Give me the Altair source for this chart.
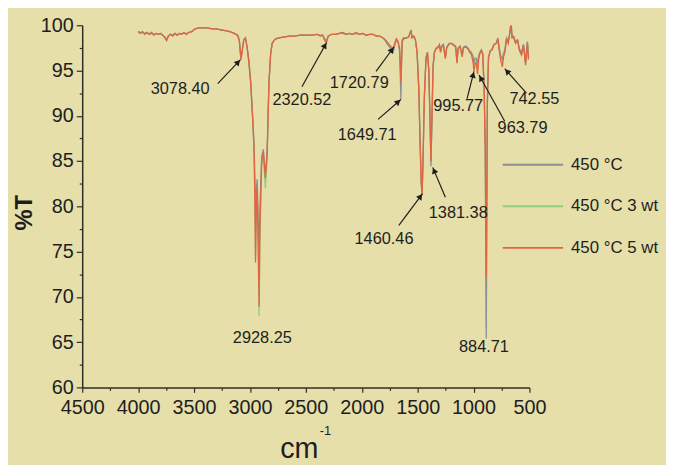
import math
import altair as alt
import pandas as pd

# ---------------- data ----------------
wavenumber = [
    4000, 3980, 3960, 3940, 3920, 3900, 3880, 3860, 3840, 3820,
    3800, 3780, 3760, 3745, 3730, 3710, 3690, 3670, 3650, 3630,
    3610, 3590, 3570, 3550, 3520, 3490, 3460, 3420, 3380, 3340,
    3300, 3260, 3220, 3180, 3140, 3110, 3095, 3085, 3080, 3070,
    3055, 3040, 3025, 3010, 2993, 2975, 2963, 2955, 2950, 2942,
    2935, 2925, 2918, 2910, 2895, 2880, 2862, 2850, 2845, 2830,
    2815, 2801, 2785, 2770, 2740, 2700, 2650, 2600, 2550, 2500,
    2450, 2400, 2370, 2350, 2330, 2315, 2300, 2270, 2230, 2200,
    2170, 2140, 2110, 2080, 2050, 2020, 1990, 1960, 1930, 1900,
    1870, 1840, 1810, 1790, 1770, 1750, 1735, 1720, 1710, 1700,
    1690, 1675, 1662, 1655, 1650, 1645, 1638, 1625, 1600, 1580,
    1565, 1558, 1550, 1535, 1520, 1505, 1490, 1478, 1468, 1460,
    1452, 1440, 1425, 1412, 1400, 1390, 1381, 1372, 1362, 1350,
    1335, 1320, 1305, 1295, 1285, 1270, 1252, 1240, 1220, 1200,
    1180, 1160, 1148, 1138, 1120, 1102, 1090, 1070, 1050, 1035,
    1020, 1005, 996, 985, 975, 964, 955, 945, 930, 918,
    905, 895, 889, 886, 882, 876, 866, 850, 835, 820,
    810, 795, 783, 770, 755, 742, 732, 720, 705, 690,
    680, 670, 662, 655, 642, 625, 606, 590, 571, 553,
    535, 518, 509,
]

t_450 = [
    99.3, 99.2, 99.2, 99.1, 99.2, 99.0, 99.1, 99.0, 99.1, 99.0,
    99.1, 98.9, 98.7, 98.4, 98.8, 99.0, 98.9, 99.1, 98.9, 99.1,
    99.0, 99.2, 99.0, 99.2, 99.3, 99.6, 99.7, 99.7, 99.7, 99.6,
    99.6, 99.5, 99.4, 99.3, 99.1, 98.9, 98.4, 97.0, 96.5, 97.2,
    98.4, 98.6, 97.6, 96.2, 93.8, 89.8, 86.8, 83.0, 78.2, 82.0,
    83.0, 78.0, 74.6, 80.0, 85.5, 86.3, 83.6, 85.3, 86.5, 93.6,
    96.8, 98.0, 98.3, 98.5, 98.6, 98.7, 98.8, 98.8, 98.9, 98.9,
    98.9, 99.0, 98.9, 98.9, 98.5, 98.3, 98.8, 99.0, 99.0, 99.1,
    99.1, 99.0, 99.1, 99.0, 99.1, 99.0, 99.1, 98.9, 99.0, 99.0,
    98.8, 98.8, 98.6, 98.3, 97.9, 97.6, 97.2, 97.0, 97.5, 98.0,
    98.4, 98.1, 97.2, 94.5, 91.8, 95.0, 98.2, 98.5, 98.6, 98.7,
    99.2, 99.3, 98.6, 98.8, 98.4, 97.0, 93.2, 87.3, 82.8, 81.5,
    85.2, 92.2, 96.4, 97.0, 95.0, 89.8, 84.4, 89.5, 95.4, 97.0,
    97.5, 97.6, 97.9, 97.2, 97.7, 97.9, 96.5, 97.6, 98.0, 98.0,
    97.9, 97.7, 96.0, 97.5, 97.7, 96.7, 97.6, 97.7, 97.5, 97.2,
    97.0, 96.6, 95.8, 96.4, 96.3, 95.8, 96.6, 97.0, 97.3, 96.9,
    93.0, 86.0, 71.0, 65.4, 78.0, 91.5, 96.4, 97.2, 97.3, 97.8,
    97.9, 98.1, 98.6, 97.5, 96.5, 96.3, 96.9, 97.3, 98.6, 98.2,
    98.8, 99.5, 99.6, 98.7, 98.8, 98.2, 98.4, 97.4, 97.0, 97.9,
    95.9, 98.2, 96.5,
]

t_450_3wt = [
    99.3, 99.1, 99.3, 99.0, 99.2, 99.0, 99.2, 98.9, 99.1, 99.0,
    99.1, 98.9, 98.6, 98.3, 98.8, 99.0, 98.8, 99.1, 98.9, 99.1,
    99.0, 99.2, 99.0, 99.2, 99.3, 99.6, 99.7, 99.7, 99.7, 99.6,
    99.6, 99.5, 99.4, 99.3, 99.1, 98.9, 98.3, 96.9, 96.3, 97.0,
    98.4, 98.6, 97.5, 96.0, 93.6, 89.5, 86.3, 80.5, 74.5, 80.5,
    82.0, 74.0, 67.9, 77.0, 84.5, 85.5, 82.0, 84.5, 86.0, 93.5,
    96.8, 98.0, 98.3, 98.5, 98.6, 98.7, 98.8, 98.8, 98.9, 98.9,
    98.9, 99.0, 98.8, 98.9, 98.4, 98.2, 98.8, 99.0, 99.0, 99.1,
    99.2, 99.0, 99.1, 99.0, 99.2, 99.0, 99.1, 98.9, 99.0, 99.0,
    98.8, 98.8, 98.6, 98.4, 98.0, 97.7, 97.4, 97.3, 97.7, 98.1,
    98.5, 98.2, 97.4, 95.2, 93.0, 95.6, 98.3, 98.6, 98.6, 98.7,
    99.3, 99.4, 98.6, 98.8, 98.4, 97.0, 93.0, 87.0, 82.5, 81.4,
    85.0, 92.0, 96.4, 97.0, 95.0, 90.0, 84.8, 90.0, 95.5, 97.0,
    97.4, 97.5, 97.8, 97.1, 97.6, 97.8, 96.4, 97.5, 97.9, 98.0,
    97.8, 97.6, 95.9, 97.4, 97.6, 96.6, 97.5, 97.6, 97.4, 97.1,
    96.9, 96.3, 95.4, 96.0, 96.0, 95.3, 96.4, 96.9, 97.2, 96.8,
    93.0, 86.0, 72.0, 66.5, 79.0, 91.8, 96.5, 97.2, 97.3, 97.8,
    97.9, 98.0, 98.5, 97.3, 96.2, 96.0, 96.7, 97.1, 98.5, 98.1,
    98.8, 99.7, 99.8, 98.6, 98.7, 98.1, 98.3, 97.3, 96.8, 97.8,
    95.7, 98.1, 96.3,
]

t_450_5wt = [
    99.3, 99.1, 99.3, 99.0, 99.2, 99.0, 99.2, 98.9, 99.1, 99.0,
    99.1, 98.9, 98.6, 98.3, 98.8, 99.0, 98.8, 99.1, 98.9, 99.1,
    99.0, 99.2, 99.0, 99.2, 99.3, 99.6, 99.7, 99.7, 99.7, 99.6,
    99.6, 99.5, 99.4, 99.3, 99.1, 98.9, 98.3, 96.8, 96.2, 97.0,
    98.4, 98.6, 97.5, 96.0, 93.6, 89.5, 86.3, 80.0, 73.8, 80.5,
    82.0, 75.0, 68.9, 78.0, 85.0, 86.0, 83.1, 85.0, 86.3, 93.6,
    96.8, 98.0, 98.3, 98.5, 98.6, 98.7, 98.8, 98.8, 98.9, 98.9,
    98.9, 99.0, 98.8, 98.9, 98.3, 98.1, 98.8, 99.0, 99.0, 99.1,
    99.2, 99.0, 99.1, 99.0, 99.2, 99.0, 99.1, 98.9, 99.0, 99.0,
    98.8, 98.8, 98.6, 98.4, 98.1, 97.8, 97.6, 97.5, 97.8, 98.2,
    98.5, 98.2, 97.5, 95.8, 93.8, 96.0, 98.4, 98.6, 98.6, 98.7,
    99.3, 99.4, 98.6, 98.8, 98.4, 97.0, 93.0, 87.0, 82.5, 81.3,
    85.0, 92.0, 96.4, 97.0, 95.0, 90.0, 85.0, 90.0, 95.5, 97.0,
    97.4, 97.5, 97.8, 97.0, 97.6, 97.8, 96.3, 97.5, 97.9, 98.0,
    97.8, 97.6, 95.8, 97.4, 97.6, 96.5, 97.5, 97.6, 97.4, 97.0,
    96.8, 96.0, 94.9, 95.8, 95.8, 94.6, 96.2, 96.8, 97.2, 96.8,
    93.0, 86.0, 76.0, 72.1, 80.0, 92.0, 96.5, 97.2, 97.3, 97.8,
    97.9, 98.0, 98.5, 97.2, 96.0, 95.4, 96.5, 97.0, 98.5, 98.0,
    98.8, 99.9, 100.0, 98.6, 98.7, 98.0, 98.3, 97.2, 96.7, 97.8,
    95.6, 98.1, 96.2,
]

series_names = ["450 °C", "450 °C 3 wt", "450 °C 5 wt"]
series_colors = ["#8b9096", "#8fcf80", "#e4643f"]

peak_labels = ["3078.40", "2320.52", "1720.79", "1649.71", "995.77", "963.79",
               "742.55", "1460.46", "1381.38", "2928.25", "884.71"]
peak_label_x = [3624, 2535, 2022, 1951, 1137, 562, 456, 1801, 1137, 2889, 907]
peak_label_y = [92.9, 91.7, 93.6, 87.9, 91.1, 88.6, 91.9, 76.4, 79.3, 65.5, 64.5]

arrow_from_x = [3288, 2535, 1872, 1854, 1058, 721, 527, 1668, 1252]
arrow_from_y = [93.55, 93.2, 94.9, 89.6, 91.9, 89.4, 92.5, 77.9, 81.0]
arrow_to_x = [3084, 2314, 1712, 1650, 996, 951, 721, 1456, 1365]
arrow_to_y = [96.2, 98.1, 97.6, 91.8, 94.9, 94.5, 95.2, 81.4, 84.3]

x_ticks = [500, 1000, 1500, 2000, 2500, 3000, 3500, 4000, 4500]
x_minor = [750, 1250, 1750, 2250, 2750, 3250, 3750, 4250]
y_ticks = [60, 65, 70, 75, 80, 85, 90, 95, 100]
y_minor = [62.5, 67.5, 72.5, 77.5, 82.5, 87.5, 92.5, 97.5]

# ---------------- styling ----------------
FONT = "Liberation Sans"
BG = "#e6dfaa"
INK = "#1e1e1e"
AXIS = "#2e2e28"
W, H = 452, 366

assert len(wavenumber) == len(t_450) == len(t_450_3wt) == len(t_450_5wt)

rows = []
for name, vals in zip(series_names, [t_450, t_450_3wt, t_450_5wt]):
    for w, v in zip(wavenumber, vals):
        rows.append({"wn": w, "T": v, "series": name})
spec = pd.DataFrame(rows)

labels_df = pd.DataFrame({"x": peak_label_x, "y": peak_label_y, "label": peak_labels})

# arrow heads: direction from the scale factors
sx, sy = W / 4000.0, H / 40.0
head_x, head_y, head_ang = [], [], []
for fx, fy, tx, ty in zip(arrow_from_x, arrow_from_y, arrow_to_x, arrow_to_y):
    dx = -(tx - fx) * sx
    dy = -(ty - fy) * sy
    ln = math.hypot(dx, dy)
    ux, uy = dx / ln, dy / ln
    head_ang.append(math.degrees(math.atan2(ux, -uy)) % 360)
    head_x.append(tx + 3.5 * ux / sx)
    head_y.append(ty + 3.5 * uy / sy)
arrows_df = pd.DataFrame({"x": arrow_from_x, "y": arrow_from_y, "x2": arrow_to_x, "y2": arrow_to_y,
                          "hx": head_x, "hy": head_y, "ang": head_ang})

x_scale = alt.Scale(domain=[500, 4500], reverse=True, nice=False, zero=False)
y_scale = alt.Scale(domain=[60, 100], nice=False, zero=False)

x_axis = alt.Axis(values=x_ticks, format="d", grid=False, orient="bottom",
                  labelFont=FONT, labelFontSize=20, labelColor=INK, labelPadding=5,
                  labelFlush=False, tickSize=5, tickColor=AXIS, tickWidth=1.2,
                  domainColor=AXIS, domainWidth=1.5,
                  title="cm", titleFont=FONT, titleFontSize=29, titleFontWeight="normal",
                  titleColor=INK, titleX=219, titleY=71, titleAlign="center",
                  titleBaseline="alphabetic")
y_axis = alt.Axis(values=y_ticks, grid=False, orient="left",
                  labelFont=FONT, labelFontSize=20, labelColor=INK, labelPadding=3,
                  tickSize=6, tickColor=AXIS, tickWidth=1.2,
                  domainColor=AXIS, domainWidth=1.5,
                  title="%T", titleFont=FONT, titleFontSize=24, titleFontWeight="bold",
                  titleColor=INK, titleAngle=270, titleX=-58, titleY=189,
                  titleAlign="center", titleBaseline="middle")
x_minor_axis = alt.Axis(values=x_minor, labels=False, domain=False, grid=False, orient="bottom",
                        tickSize=3, tickColor=AXIS, tickWidth=1.2, title=None)
y_minor_axis = alt.Axis(values=y_minor, labels=False, domain=False, grid=False, orient="left",
                        tickSize=3, tickColor=AXIS, tickWidth=1.2, title=None)

color = alt.Color("series:N",
                  scale=alt.Scale(domain=series_names, range=series_colors),
                  legend=alt.Legend(title=None, orient="none", legendX=424, legendY=131,
                                    direction="vertical", symbolType="stroke",
                                    symbolSize=3721, symbolStrokeWidth=2,
                                    clipHeight=20, rowPadding=22, padding=0,
                                    labelFont=FONT, labelFontSize=17, labelColor=INK,
                                    labelOffset=7))


def line_layer(name, with_axes):
    return alt.Chart(spec).transform_filter(alt.datum.series == name).mark_line(
        strokeWidth=1.3, clip=True
    ).encode(
        x=alt.X("wn:Q", scale=x_scale, axis=x_axis if with_axes else None),
        y=alt.Y("T:Q", scale=y_scale, axis=y_axis if with_axes else None),
        color=color,
    )


green_line = line_layer(series_names[1], True)
gray_line = line_layer(series_names[0], False)
red_line = line_layer(series_names[2], False)

label_layer = alt.Chart(labels_df).mark_text(
    font=FONT, fontSize=16.5, color=INK, align="center", baseline="middle"
).encode(
    x=alt.X("x:Q", scale=x_scale, axis=x_minor_axis),
    y=alt.Y("y:Q", scale=y_scale, axis=y_minor_axis),
    text="label:N",
)

arrow_rules = alt.Chart(arrows_df).mark_rule(color=INK, strokeWidth=1.2).encode(
    x=alt.X("x:Q", scale=x_scale, axis=None),
    y=alt.Y("y:Q", scale=y_scale, axis=None),
    x2="x2:Q", y2="y2:Q",
)

arrow_heads = alt.Chart(arrows_df).mark_point(
    shape="triangle-up", filled=True, size=45, color=INK, opacity=1
).encode(
    x=alt.X("hx:Q", scale=x_scale, axis=None),
    y=alt.Y("hy:Q", scale=y_scale, axis=None),
    angle=alt.Angle("ang:Q", scale=None),
)

sup = alt.Chart(pd.DataFrame({"t": ["-1"]})).mark_text(
    font=FONT, fontSize=13, color=INK, align="left", baseline="middle"
).encode(text="t:N", x=alt.value(240), y=alt.value(410))

chart = alt.layer(
    green_line, gray_line, red_line, arrow_rules, arrow_heads, label_layer, sup
).resolve_axis(
    x="independent", y="independent"
).properties(
    width=W, height=H,
    autosize=alt.AutoSizeParams(type="none"),
    padding={"left": 75, "top": 15, "right": 138, "bottom": 76},
).configure(
    background=BG,
).configure_view(
    strokeWidth=0, fill=BG,
)

chart.save("out.html", embed_options={"renderer": "svg", "actions": False})
